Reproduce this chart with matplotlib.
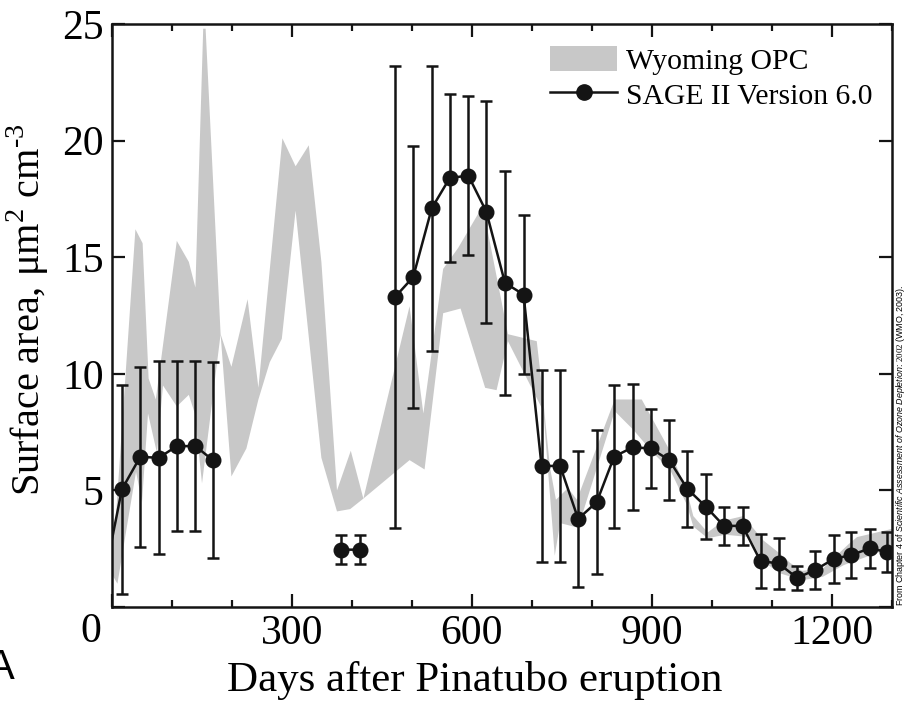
import numpy as np
import matplotlib
matplotlib.use("Agg")
import matplotlib.pyplot as plt
from matplotlib.patches import Patch
from matplotlib.lines import Line2D

# SAGE II Version 6.0, nan = gap in the record
sage_days = [-14, 16.5, 47, 78, 108, 139, 168, np.nan, 382, 413, np.nan,
             472, 502, 533, 563, 594, 624, 655, 686, 716, 747, 777, 808, 837,
             868, 898, 929, 959, 990, 1020, 1051, 1081, 1111, 1142, 1172,
             1203, 1232, 1263, 1292]
sage_area = [1.1, 5.05, 6.44, 6.4, 6.9, 6.9, 6.3, np.nan, 2.46, 2.46, np.nan,
             13.3, 14.15, 17.1, 18.4, 18.5, 16.95, 13.9, 13.4, 6.05, 6.05, 3.78,
             4.5, 6.45, 6.85, 6.8, 6.3, 5.07, 4.3, 3.48, 3.48, 1.97, 1.87, 1.25,
             1.59, 2.06, 2.23, 2.51, 2.37]
sage_err = [0, 4.47, 3.86, 4.13, 3.65, 3.65, 4.2, np.nan, 0.61, 0.61, np.nan,
            9.9, 5.62, 6.1, 3.6, 3.4, 4.75, 4.8, 3.4, 4.1, 4.1, 2.9, 3.1, 3.05,
            2.7, 1.7, 1.7, 1.63, 1.4, 0.83, 0.83, 1.15, 1.1, 0.53, 0.82, 1.02,
            1.0, 0.82, 0.86]

# Wyoming OPC range: upper and lower edge
opc_up_day = [0, 5, 39, 51, 61, 73, 108, 128, 139, 152, 156, 181, 199, 226,
              244, 284, 306, 328, 349, 375, 398, 419, 496, 519, 552, 577, 618,
              660, 708, 716, 730, 740, 760, 775, 838, 883, 930, 958, 969, 993,
              1019, 1052, 1086, 1113, 1130, 1150, 1185, 1228, 1242, 1300]
opc_up = [3.0, 3.3, 16.2, 15.6, 9.8, 8.9, 15.7, 14.8, 13.7, 24.8, 24.8, 11.7,
          10.3, 13.2, 9.4, 20.1, 18.9, 19.8, 14.8, 5.0, 6.7, 4.65, 12.9, 8.3,
          14.5, 15.4, 17.2, 11.7, 11.4, 9.6, 6.0, 4.6, 5.1, 4.6, 8.9, 8.9, 6.7,
          5.0, 3.9, 3.2, 3.7, 3.9, 2.85, 2.3, 1.9, 1.55, 1.65, 2.7, 3.0, 3.35]
opc_lo_day = [0, 9, 40, 50, 60, 75, 85, 108, 128, 138, 150, 181, 199, 224,
              244, 263, 283, 306, 349, 375, 397, 419, 496, 521, 552, 581, 622,
              641, 660, 719, 738, 747, 777, 838, 869, 902, 930, 958, 969, 993,
              1022, 1063, 1083, 1113, 1150, 1185, 1220, 1300]
opc_lo = [1.4, 1.0, 5.8, 4.5, 8.3, 6.6, 9.5, 8.6, 9.1, 8.3, 5.3, 11.7, 5.6,
          6.8, 8.9, 10.5, 11.5, 17.0, 6.4, 4.1, 4.2, 4.65, 6.3, 5.9, 12.6, 12.8,
          9.4, 9.3, 11.4, 8.4, 2.2, 3.6, 3.4, 8.4, 7.6, 6.6, 5.9, 4.4, 3.45,
          2.95, 3.1, 3.0, 2.0, 1.45, 1.15, 1.3, 1.8, 2.55]

x_major = [0, 300, 600, 900, 1200]
x_labels = ['', '300', '600', '900', '1200']
y_major = [0, 5, 10, 15, 20, 25]
y_labels = ['', '5', '10', '15', '20', '25']

band_color = '#c8c8c8'
ink = '#141414'


def main():
    plt.rcParams['font.family'] = 'Liberation Serif'
    plt.rcParams['mathtext.fontset'] = 'custom'
    plt.rcParams['mathtext.rm'] = 'Liberation Serif'
    plt.rcParams['mathtext.it'] = 'Liberation Sans:italic'
    plt.rcParams['mathtext.bf'] = 'Liberation Serif:bold'

    fig = plt.figure(figsize=(9.1, 7.07), dpi=100)
    ax = fig.add_axes([0.1231, 0.1414, 0.857, 0.8246])

    # OPC band as a closed polygon
    poly_x = opc_up_day + opc_lo_day[::-1]
    poly_y = opc_up + opc_lo[::-1]
    ax.fill(poly_x, poly_y, color=band_color, lw=0, zorder=1)

    ax.errorbar(sage_days, sage_area, yerr=sage_err, fmt='-o', color=ink,
                lw=1.8, ms=10.5, elinewidth=1.8, capsize=4, capthick=1.8,
                zorder=3)

    ax.set_xlim(0, 1300)
    ax.set_ylim(0, 25)
    ax.set_xticks(x_major)
    ax.set_xticklabels(x_labels)
    ax.set_xticks(np.arange(0, 1301, 100), minor=True)
    ax.set_yticks(y_major)
    ax.set_yticklabels(y_labels)
    ax.tick_params(which='both', direction='in', top=True, right=True,
                   width=1.6, color=ink, labelsize=30)
    ax.tick_params(which='major', length=9.5)
    ax.tick_params(which='minor', length=5)
    ax.tick_params(axis='x', pad=5.5)
    ax.tick_params(axis='y', pad=6)
    for sp in ax.spines.values():
        sp.set_linewidth(1.8)
        sp.set_color(ink)

    ax.set_xlabel('Days after Pinatubo eruption', fontsize=31)
    ax.xaxis.set_label_coords(0.465, -0.093)
    ax.set_ylabel('Surface area, μm$^2$ cm$^{\u20103}$', fontsize=29)
    ax.yaxis.set_label_coords(-0.078, 0.51)

    handles = [Patch(facecolor=band_color, edgecolor='none'),
               Line2D([], [], color=ink, lw=1.8, marker='o', ms=11)]
    ax.legend(handles, ['Wyoming OPC', 'SAGE II Version 6.0'],
              loc='upper right', bbox_to_anchor=(0.99, 0.983), frameon=False,
              fontsize=21.3, handlelength=2.25, handleheight=0.95,
              handletextpad=0.3, labelspacing=0.2, borderaxespad=0)

    # shared zero at the corner, panel letter, source note
    fig.text(91 / 910, 1 - 632 / 707, '0', ha='center', va='center',
             fontsize=30)
    fig.text(0.016, 1 - 668 / 707, 'A', ha='right', va='center',
             fontsize=30, family='Liberation Sans')
    note = (r'From Chapter 4 of $\mathit{Scientific\ Assessment\ of\ Ozone'
            r'\ Depletion}$: $\mathit{2002}$ (WMO, 2003).')
    fig.text(0.9895, 1 - 606 / 707, note, rotation=90, ha='center',
             va='bottom', fontsize=6.4, family='Liberation Sans')

    fig.savefig('out.png', dpi=100)


if __name__ == "__main__":
    main()
